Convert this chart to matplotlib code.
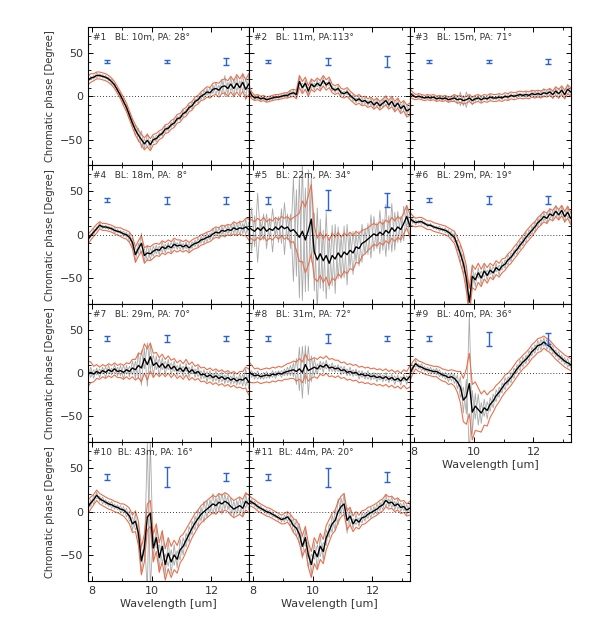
"""Chromatic phase vs wavelength for eleven baselines (4x3 panel grid)."""

import numpy as np
import matplotlib

matplotlib.use("Agg")
import matplotlib.pyplot as plt
from matplotlib.ticker import MultipleLocator, FixedLocator

# wavelength grid in um (0.1 um sampling)
wavelength = np.linspace(7.85, 13.25, 55)

titles = [
    "#1   BL: 10m, PA: 28°", "#2   BL: 11m, PA:113°", "#3   BL: 15m, PA: 71°",
    "#4   BL: 18m, PA:  8°", "#5   BL: 22m, PA: 34°", "#6   BL: 29m, PA: 19°",
    "#7   BL: 29m, PA: 70°", "#8   BL: 31m, PA: 72°", "#9   BL: 40m, PA: 36°",
    "#10  BL: 43m, PA: 16°", "#11  BL: 44m, PA: 20°",
]

# calibration error bars drawn at phase = 40
bar_wave = [8.5, 10.5, 12.5]
bar_level = 40
bar_half = [
    [2, 2, 4], [2, 4, 6], [2, 2, 3], [2, 4, 4], [4, 12, 8], [2, 5, 5],
    [3, 4, 3], [3, 5, 3], [3, 8, 6], [3, 12, 5], [3, 11, 6],
]

mean_1 = [18, 21, 22, 24, 24, 23, 22, 20, 17, 13, 7, 1, -6, -13, -22, -31, -39, -45, -50, -55,
          -51, -56, -50, -49, -45, -43, -38, -37, -33, -31, -26, -25, -20, -18, -13, -11, -6, -4, 0, 2,
          5, 4, 8, 9, 7, 11, 12, 9, 14, 9, 15, 10, 16, 8, 14]
err_1 = [5, 5, 4, 4, 4, 4, 4, 4, 4, 4, 4, 4, 5, 5, 5, 5, 6, 6, 6, 7, 7, 7, 6, 6, 5, 5, 5, 5, 5, 5,
         5, 5, 5, 5, 5, 5, 5, 5, 5, 6, 6, 6, 7, 7, 8, 8, 8, 9, 9, 9, 10, 10, 10, 11, 12]
dev_1 = [3, -2, 2, -3, 2, -2, 2, -2, 3, -2, 2, -3, 3, -3, 4, -5, 6, -8, 10, -6, 8, -5, 4, -4, 3,
         -3, 4, -3, 3, -4, 3, -3, 4, -3, 3, -4, 3, -4, 4, -5, 4, -6, 5, -7, 6, -8, 12, -7, 8, -10,
         9, -8, 10, -12, 10]

mean_2 = [8, 1, -2, -1, -3, -2, -4, -3, -2, -1, -1, 0, 1, 1, 3, 4, 2, 17, 10, 15, 6, 14, 11, 15,
          12, 18, 13, 16, 9, 7, 9, 4, 3, 5, 1, -2, -5, -3, -6, -5, -8, -6, -10, -7, -11, -8, -5,
          -10, -6, -12, -8, -14, -11, -17, -15]
err_2 = [5, 4, 3, 3, 3, 3, 3, 3, 3, 3, 3, 3, 3, 3, 4, 4, 5, 7, 7, 7, 6, 6, 6, 6, 6, 6, 6, 6, 5, 5,
         5, 5, 5, 5, 5, 5, 5, 5, 5, 5, 5, 5, 5, 5, 5, 5, 5, 5, 6, 6, 6, 6, 6, 7, 7]
dev_2 = [3, -2, 2, -2, 2, -2, 2, -2, 2, -2, 2, -2, 2, -3, 3, -3, 4, -5, 5, -4, 4, -5, 4, -4, 5,
         -4, 3, -4, 3, -3, 3, -3, 3, -3, 3, -4, 3, -3, 4, -4, 3, -4, 4, -5, 4, -5, 6, -4, 5, -5,
         6, -5, 5, -6, 5]

mean_3 = [4, 1, -1, 0, -1, -2, -1, -2, -1, -3, -2, -3, -2, -4, -3, -2, -4, -3, -5, -4, -2, -5,
          -3, -2, -4, -2, -3, -1, -2, -2, -1, -2, 0, -1, 1, 0, 1, 2, 1, 2, 1, 3, 2, 3, 2, 4, 3, 5,
          2, 6, 3, 7, 2, 8, 5]
err_3 = [5, 4, 3, 3, 3, 3, 3, 3, 3, 3, 3, 3, 3, 3, 3, 4, 4, 4, 4, 4, 4, 4, 4, 4, 4, 4, 4, 4, 4, 4,
         4, 4, 4, 4, 4, 4, 4, 4, 4, 4, 4, 4, 4, 4, 4, 4, 4, 4, 4, 5, 5, 5, 5, 5, 5]
dev_3 = [2, -2, 1, -2, 2, -1, 2, -2, 1, -2, 2, -2, 2, -3, 3, -4, 5, -8, 6, -9, 4, -5, 3, -3, 3,
         -2, 2, -3, 2, -2, 3, -2, 2, -3, 2, -2, 3, -2, 2, -3, 2, -3, 4, -3, 4, -5, 3, -4, 5, -4,
         6, -4, 5, -6, 4]

mean_4 = [-6, -1, 3, 7, 11, 9, 9, 8, 7, 5, 4, 3, 1, 0, -3, -9, -23, -16, -10, -24, -21, -22,
          -19, -17, -18, -14, -16, -13, -15, -11, -13, -12, -14, -12, -15, -12, -10, -9, -6, -5,
          -3, -2, 1, 3, 2, 5, 4, 6, 5, 8, 6, 8, 7, 9, 6]
err_4 = [6, 5, 5, 5, 4, 4, 4, 4, 4, 4, 4, 5, 5, 5, 6, 7, 9, 9, 9, 9, 8, 8, 8, 7, 7, 7, 7, 7, 7, 7,
         7, 6, 6, 6, 6, 6, 6, 6, 6, 6, 6, 6, 6, 6, 6, 6, 6, 6, 6, 7, 7, 7, 8, 10, 12]
dev_4 = [3, -2, 3, -2, 3, -2, 2, -2, 2, -3, 2, -2, 3, -3, 5, -6, 8, -6, 12, -8, 9, -7, 6, -5, 5,
         -6, 5, -4, 6, -5, 4, -5, 4, -4, 5, -4, 4, -5, 4, -5, 5, -4, 6, -5, 6, -5, 7, -5, 6, -6,
         7, -8, 6, -9, 8]

mean_5 = [9, 6, 4, 8, 5, 9, 4, 7, 5, 9, 6, 10, 7, 9, 4, 6, 2, -3, 4, -6, 5, 18, -20, -29, -22,
          -30, -24, -33, -24, -28, -21, -26, -20, -23, -18, -21, -14, -16, -10, -8, -5, -2, 1, -1,
          3, 0, 5, 2, 8, 4, 9, 6, 13, 21, 11]
err_5 = [11, 11, 11, 11, 11, 11, 11, 11, 11, 11, 11, 11, 12, 12, 13, 14, 20, 28, 35, 38, 40, 40,
         30, 25, 25, 25, 25, 26, 26, 25, 24, 23, 22, 22, 21, 20, 18, 17, 15, 14, 13, 13, 12, 12,
         12, 12, 12, 12, 12, 12, 12, 12, 12, 13, 13]
dev_5 = [12, -25, 18, -40, 10, -15, 20, -12, 25, -10, 15, -20, 30, -15, 20, -60, 50, -70, 80, -60,
         70, -50, 45, -60, 40, -35, 50, -30, 35, -40, 30, -25, 30, -35, 20, -25, 18, -20, 22, -15,
         18, -25, 20, -15, 25, -18, 30, -20, 28, -22, 18, -15, 20, -12, 15]

mean_6 = [19, 16, 14, 15, 15, 13, 11, 11, 9, 8, 7, 6, 5, 3, 0, -3, -12, -22, -33, -50, -78, -48,
          -52, -44, -50, -42, -47, -41, -44, -38, -41, -36, -34, -29, -26, -21, -17, -12, -8, -3,
          1, 5, 9, 14, 17, 21, 19, 24, 22, 27, 23, 28, 21, 26, 19]
err_6 = [7, 6, 5, 5, 5, 5, 5, 5, 5, 5, 5, 5, 5, 5, 6, 7, 9, 11, 12, 14, 16, 13, 12, 11, 10, 9, 9,
         8, 8, 8, 8, 8, 7, 7, 7, 7, 7, 7, 7, 7, 7, 7, 6, 6, 6, 6, 6, 6, 6, 6, 6, 6, 6, 7, 7]
dev_6 = [5, -3, 3, -2, 3, -2, 2, -2, 2, -2, 3, -2, 3, -3, 4, -5, 6, -10, 12, -15, 20, -12, 8, -6,
         8, -7, 6, -5, 7, -5, 6, -5, 5, -6, 5, -4, 6, -5, 5, -6, 5, -5, 6, -5, 6, -5, 6, -6, 5,
         -7, 6, -5, 7, -6, 6]

mean_7 = [-1, 1, -1, 2, 0, 3, 1, 4, 2, 5, 2, 3, 1, 4, 2, 6, 4, 9, 6, 17, 10, 19, 9, 12, 7, 11,
          6, 10, 5, 8, 3, 6, 2, 7, 1, 4, 0, 2, -2, -1, -4, -2, -5, -3, -6, -4, -7, -5, -8, -6, -9,
          -7, -8, -5, -10]
err_7 = [15, 12, 9, 8, 7, 7, 7, 7, 7, 7, 7, 8, 8, 8, 9, 10, 12, 14, 16, 17, 18, 16, 14, 12, 11,
         11, 10, 10, 10, 9, 9, 9, 9, 9, 9, 9, 8, 8, 8, 8, 8, 8, 8, 8, 8, 8, 8, 8, 8, 8, 8, 9, 10,
         12, 15]
dev_7 = [8, -6, 5, -4, 5, -4, 6, -5, 4, -5, 5, -6, 8, -5, 6, -8, 10, -15, 20, -12, 25, -15, 12,
         -8, 10, -7, 8, -6, 7, -6, 6, -5, 6, -5, 6, -5, 5, -6, 5, -5, 6, -5, 5, -6, 5, -6, 5, -6,
         5, -6, 5, -6, 7, -10, 8]

mean_8 = [2, -1, -3, -2, -4, -3, -2, -3, -1, -2, 0, -1, 1, 2, 3, 4, 2, 5, 1, 10, 3, 5, 7, 5, 9,
          7, 10, 6, 7, 5, 6, 3, 4, 1, 2, 0, 1, -2, -1, -3, -2, -4, -3, -5, -4, -6, -4, -7, -5, -8,
          -6, -9, -5, -8, -4]
err_8 = [12, 10, 8, 8, 8, 8, 8, 8, 8, 8, 8, 8, 8, 9, 9, 10, 11, 12, 12, 12, 12, 11, 11, 11, 10,
         10, 10, 10, 10, 10, 9, 9, 9, 9, 9, 9, 9, 9, 9, 9, 9, 9, 9, 9, 9, 9, 9, 9, 9, 9, 9, 9, 9,
         10, 12]
dev_8 = [5, -4, 4, -5, 3, -4, 4, -3, 4, -4, 3, -4, 4, -5, 6, -8, 15, -25, 30, -22, 28, -15, 10,
         -6, 5, -6, 5, -4, 5, -4, 4, -5, 4, -4, 5, -4, 4, -5, 4, -4, 5, -4, 4, -5, 4, -4, 5, -4,
         4, -5, 4, -5, 4, -5, 4]

mean_9 = [-1, 6, 11, 8, 7, 5, 4, 3, 2, 2, 0, -2, -3, -5, -4, -6, -10, -16, -31, -27, -12, -45,
          -38, -42, -46, -40, -43, -36, -32, -26, -22, -17, -12, -9, -5, 0, 5, 9, 13, 16, 20, 25,
          28, 32, 33, 36, 33, 31, 27, 23, 20, 17, 14, 12, 10]
err_9 = [8, 7, 6, 6, 6, 6, 6, 6, 6, 6, 7, 7, 7, 8, 8, 9, 12, 18, 25, 32, 35, 32, 28, 25, 22, 20,
         18, 15, 13, 12, 11, 10, 10, 9, 9, 9, 9, 8, 8, 8, 8, 8, 8, 8, 8, 7, 7, 7, 7, 7, 7, 7, 7,
         7, 7]
dev_9 = [5, -4, 4, -3, 4, -3, 3, -4, 3, -4, 4, -3, 4, -5, 5, -6, 8, -12, 15, -20, 80, -25, 15,
         -18, 12, -10, 10, -8, 8, -7, 6, -6, 7, -5, 6, -6, 5, -6, 6, -5, 6, -5, 5, -6, 6, -5, 6,
         -5, 5, -4, 5, -4, 4, -5, 4]

mean_10 = [5, 10, 14, 19, 15, 13, 11, 9, 8, 6, 5, 3, 2, -1, -5, -14, -11, -25, -57, -42, -6, -2,
           -42, -30, -53, -40, -61, -48, -58, -50, -55, -44, -40, -33, -26, -19, -13, -8, -3, 0,
           3, 6, 9, 7, 11, 9, 12, 10, 6, 3, 5, 7, 4, 12, 9]
err_10 = [8, 7, 6, 6, 6, 6, 6, 6, 6, 6, 6, 6, 7, 8, 9, 10, 12, 14, 16, 16, 15, 15, 16, 16, 17,
          18, 18, 18, 18, 17, 16, 15, 14, 13, 12, 11, 11, 10, 10, 10, 10, 10, 10, 10, 10, 10, 10,
          10, 10, 10, 10, 10, 10, 10, 10]
dev_10 = [6, -4, 5, -4, 3, -4, 3, -3, 4, -3, 3, -4, 4, -5, 6, -8, 10, -12, 15, -10, 85, -85, 15,
          -12, 15, -18, 12, -15, 14, -12, 10, -12, 10, -8, 9, -8, 8, -10, 8, -12, 10, -8, 12, -9,
          10, -12, 9, -8, 10, -9, 8, -10, 9, -8, 7]

mean_11 = [13, 11, 9, 6, 4, 2, 0, -1, -3, -5, -7, -9, -8, -6, -10, -16, -19, -26, -40, -30, -50,
           -61, -45, -52, -40, -46, -30, -22, -14, -10, 0, 6, 9, -10, -5, -14, -9, -12, -7, -6,
           -3, -1, 1, 3, 6, 8, 13, 10, 11, 7, 9, 5, 6, 2, 4]
err_11 = [6, 5, 5, 5, 5, 5, 5, 5, 5, 5, 5, 5, 6, 6, 7, 8, 9, 10, 12, 13, 14, 15, 15, 15, 15, 14,
          14, 13, 12, 12, 12, 12, 12, 11, 10, 9, 9, 8, 8, 8, 8, 7, 7, 7, 7, 7, 7, 7, 7, 7, 7, 7, 7,
          7, 8]
dev_11 = [4, -3, 3, -3, 3, -2, 3, -3, 3, -2, 3, -3, 4, -5, 6, -8, 10, -12, 14, -10, 15, -12, 10,
          -14, 12, -10, 9, -8, 10, -12, 15, -10, 12, -15, 10, -6, 6, -5, 6, -5, 5, -6, 5, -6, 5,
          -6, 7, -5, 6, -5, 6, -5, 5, -6, 5]

means = [mean_1, mean_2, mean_3, mean_4, mean_5, mean_6, mean_7, mean_8, mean_9, mean_10, mean_11]
errs = [err_1, err_2, err_3, err_4, err_5, err_6, err_7, err_8, err_9, err_10, err_11]
devs = [dev_1, dev_2, dev_3, dev_4, dev_5, dev_6, dev_7, dev_8, dev_9, dev_10, dev_11]

TEXT = "#333333"
ORANGE = "#e8704c"
BLUE = "#2a62d4"

plt.rcParams.update({"font.family": "DejaVu Sans", "font.size": 7.5, "axes.linewidth": 0.8})

fig = plt.figure(figsize=(5.98, 6.37), dpi=100)
left, top = 0.1467, 0.9576
w, h = 0.2692, 0.2174

for k in range(11):
    r, c = divmod(k, 3)
    ax = fig.add_axes([left + c * w, top - (r + 1) * h, w, h])
    m = np.asarray(means[k], float)
    e = np.asarray(errs[k], float)
    d = np.asarray(devs[k], float)

    ax.plot(wavelength, m + d, color="#a8a8a8", lw=0.6)
    ax.plot(wavelength, m - d, color="#a8a8a8", lw=0.6)
    ax.plot(wavelength, m + e, color=ORANGE, lw=0.8)
    ax.plot(wavelength, m - e, color=ORANGE, lw=0.8)
    ax.plot(wavelength, m, color="black", lw=1.0)
    ax.axhline(0, color="black", lw=0.6, ls=(0, (1, 2.5)))
    ax.errorbar(bar_wave, [bar_level] * 3, yerr=bar_half[k], fmt="none",
                ecolor=BLUE, elinewidth=1.0, capsize=2.5, capthick=1.0)

    ax.set_xlim(7.85, 13.25)
    ax.set_ylim(-80, 80)
    ax.xaxis.set_major_locator(FixedLocator([8, 10, 12]))
    ax.xaxis.set_minor_locator(FixedLocator([9, 11, 13]))
    ax.yaxis.set_major_locator(FixedLocator([-50, 0, 50]))
    ax.yaxis.set_minor_locator(MultipleLocator(10))
    ax.tick_params(which="both", direction="in", top=True, right=True,
                   colors="black", labelcolor=TEXT, labelsize=8)
    ax.tick_params(which="major", length=3.5, width=0.7)
    ax.tick_params(which="minor", length=2.5, width=0.6)

    ax.text(0.03, 0.96, titles[k], transform=ax.transAxes, ha="left", va="top",
            fontsize=6.5, color=TEXT)

    if c == 0:
        ax.set_ylabel("Chromatic phase [Degree]", color=TEXT, fontsize=7.2, labelpad=3)
    else:
        ax.tick_params(labelleft=False)
    if k >= 8:
        ax.set_xlabel("Wavelength [um]", color=TEXT, fontsize=8, labelpad=2)
    else:
        ax.tick_params(labelbottom=False)

fig.savefig("out.png", dpi=100)
